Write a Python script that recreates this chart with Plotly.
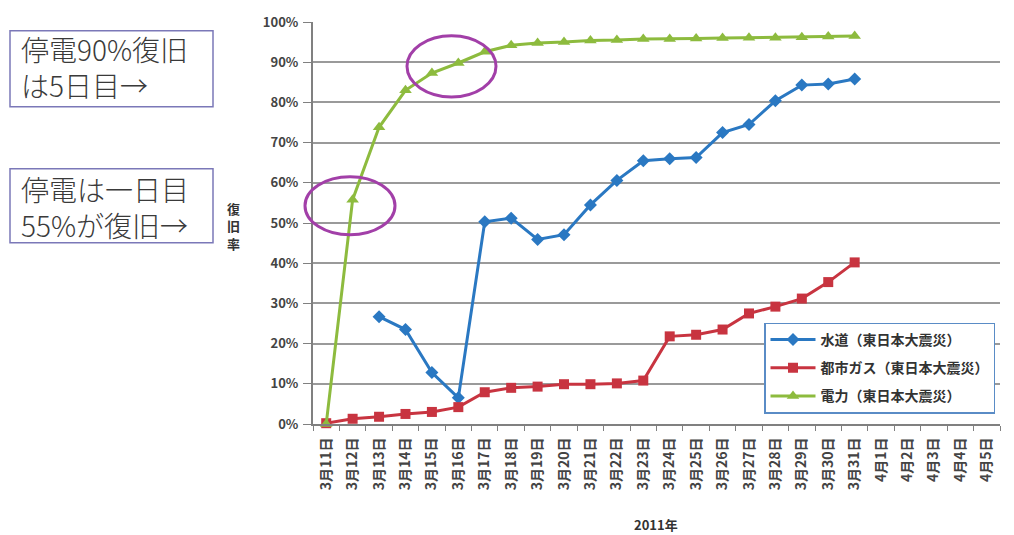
import plotly.graph_objects as go

dates = ["3月11日", "3月12日", "3月13日", "3月14日", "3月15日", "3月16日", "3月17日",
         "3月18日", "3月19日", "3月20日", "3月21日", "3月22日", "3月23日", "3月24日",
         "3月25日", "3月26日", "3月27日", "3月28日", "3月29日", "3月30日", "3月31日",
         "4月1日", "4月2日", "4月3日", "4月4日", "4月5日"]

water = [None, None, 26.7, 23.5, 12.8, 6.5, 50.3, 51.2, 45.9, 47.1, 54.5, 60.6, 65.5, 66.0,
         66.3, 72.5, 74.5, 80.4, 84.3, 84.6, 85.8]
gas = [0.2, 1.3, 1.8, 2.5, 3.0, 4.2, 7.9, 9.0, 9.3, 9.9, 9.9, 10.1, 10.8, 21.8,
       22.2, 23.5, 27.5, 29.2, 31.2, 35.3, 40.2]
power = [0.0, 55.8, 73.8, 83.0, 87.3, 89.8, 92.6, 94.2, 94.8, 95.0, 95.4, 95.5, 95.8, 95.8,
         95.9, 96.0, 96.1, 96.1, 96.2, 96.4, 96.5]

names = ["水道（東日本大震災）", "都市ガス（東日本大震災）", "電力（東日本大震災）"]
yticks = list(range(0, 101, 10))
ytext = [f"{v}%" for v in yticks]
ytitle_chars = ["復", "旧", "率"]

font = "Noto Sans CJK JP"
fig = go.Figure()
specs = [
    (water, names[0], "#2a78c2", "diamond", 10),
    (gas, names[1], "#c83440", "square", 10),
    (power, names[2], "#8dbb3e", "triangle-up", 11),
]
for i, (vals, nm, col, sym, sz) in enumerate(specs):
    fig.add_trace(go.Scatter(x=dates[:len(vals)], y=vals, name=nm, mode="lines+markers",
                             legendgroup=f"g{i}",
                             line=dict(color=col, width=3),
                             marker=dict(symbol=sym, size=sz, color=col),
                             cliponaxis=False))

W, H = 1014, 535
L, R, T, B = 313, 14, 16, 111
pw, ph = W - L - R, H - T - B

def px(x):
    return (x - L) / pw

def py(y):
    return (H - B - y) / ph

shapes = []
for (x0, y0, x1, y1) in [(10, 25, 213, 102), (10, 165, 213, 240)]:
    shapes.append(dict(type="rect", xref="paper", yref="paper",
                       x0=px(x0), x1=px(x1), y0=py(y1), y1=py(y0),
                       line=dict(color="#7b78b8", width=1.5), fillcolor="white", layer="above"))
for (x0, y0, x1, y1) in [(305, 173, 395, 232), (407, 30, 496, 92)]:
    shapes.append(dict(type="circle", xref="paper", yref="paper",
                       x0=px(x0), x1=px(x1), y0=py(y1), y1=py(y0),
                       line=dict(color="#a23fa8", width=3), layer="above"))

annotations = [
    dict(text="停電90%復旧<br>は5日目→", xref="paper", yref="paper", x=px(19), y=py(62),
         xanchor="left", yanchor="middle", align="left", showarrow=False,
         font=dict(family=font, size=28, color="#3a3a3a", weight=300)),
    dict(text="停電は一日目<br>55%が復旧→", xref="paper", yref="paper", x=px(19), y=py(204),
         xanchor="left", yanchor="middle", align="left", showarrow=False,
         font=dict(family=font, size=28, color="#3a3a3a", weight=300)),
    dict(text="<b>2011年</b>", xref="paper", yref="paper", x=px(656), y=py(526),
         xanchor="center", yanchor="middle", showarrow=False,
         font=dict(family=font, size=13, color="#333333")),
]
for k, ch in enumerate(ytitle_chars):
    annotations.append(dict(text=f"<b>{ch}</b>", xref="paper", yref="paper",
                            x=px(233), y=py(205 + 18 * k),
                            xanchor="center", yanchor="middle", showarrow=False,
                            font=dict(family=font, size=13, color="#333333")))

fig.update_layout(
    width=W, height=H,
    margin=dict(l=L, r=R, t=T, b=B),
    paper_bgcolor="white", plot_bgcolor="white",
    font=dict(family=font, color="#333333"),
    showlegend=True,
    legend=dict(x=px(764), y=py(321), xanchor="left", yanchor="top",
                bordercolor="#5a8cc6", borderwidth=1.5, bgcolor="white",
                font=dict(family=font, size=14, color="#333333", weight="bold"),
                traceorder="grouped", tracegroupgap=7, itemwidth=45),
    xaxis=dict(type="category", categoryorder="array", categoryarray=dates,
               range=[-0.5, len(dates) - 0.5], tickson="boundaries",
               showgrid=False, showline=True, linecolor="#808080", linewidth=2,
               ticks="outside", ticklen=5, tickcolor="#808080",
               tickvals=dates, ticktext=[f"<b>{d}</b>" for d in dates],
               tickangle=-90, ticklabelstandoff=6,
               tickfont=dict(family=font, size=14, color="#444444")),
    yaxis=dict(range=[0, 100], tickvals=yticks, ticktext=[f"<b>{t}</b>" for t in ytext],
               showgrid=True, gridcolor="#9a9a9a", gridwidth=1.5,
               showline=True, linecolor="#808080", linewidth=2,
               ticks="outside", ticklen=8, tickcolor="#808080", ticklabelstandoff=2,
               tickfont=dict(family=font, size=13, color="#444444"), zeroline=False),
    shapes=shapes, annotations=annotations,
)

fig.write_html("out.html")
